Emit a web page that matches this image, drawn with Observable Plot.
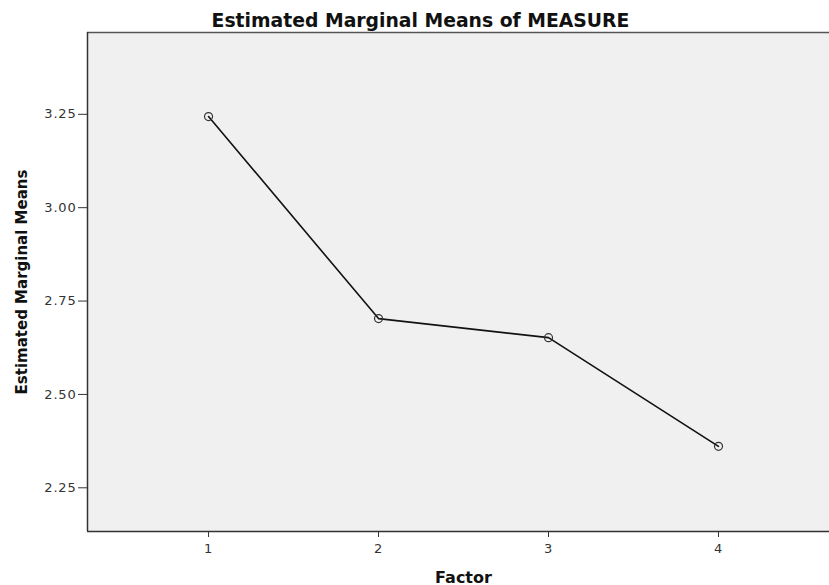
<!DOCTYPE html>
<html>
<head>
<meta charset="utf-8">
<script src="https://cdn.jsdelivr.net/npm/d3@7"></script>
<script src="https://cdn.jsdelivr.net/npm/@observablehq/plot@0.6"></script>
<style>
  html, body { margin: 0; padding: 0; background: #fff; }
  #chart svg { display: block; }
  #chart g[aria-label="y-axis tick label"] text,
  #chart g[aria-label="x-axis tick label"] text { letter-spacing: 0.8px; }
</style>
</head>
<body>
<div id="chart"></div>
<script>
const factors = [1, 2, 3, 4];
const means = [3.244, 2.703, 2.652, 2.361];
const yTicks = [2.25, 2.50, 2.75, 3.00, 3.25];
const xTicks = [1, 2, 3, 4];
const titleText = "Estimated Marginal Means of MEASURE";
const xLabel = "Factor";
const yLabel = "Estimated Marginal Means";

const data = factors.map((f, i) => ({factor: f, mean: means[i]}));
const xDomain = [0.288, 4.653];
const yDomain = [2.133, 3.469];

const chart = Plot.plot({
  width: 829,
  height: 585,
  marginLeft: 87,
  marginTop: 32,
  marginRight: 0,
  marginBottom: 54,
  style: {fontFamily: "DejaVu Sans", background: "#fff", overflow: "visible"},
  x: {domain: xDomain},
  y: {domain: yDomain},
  marks: [
    Plot.frame({fill: "#f0f0f0", stroke: null}),
    Plot.ruleY([yDomain[1]], {stroke: "#555", strokeWidth: 1.5}),
    Plot.ruleX([xDomain[0]], {stroke: "#333", strokeWidth: 1.5}),
    Plot.ruleY([yDomain[0]], {stroke: "#333", strokeWidth: 1.5}),
    Plot.axisY(yTicks, {
      tickSize: 9, tickPadding: 2, tickFormat: d3.format(".2f"),
      fontSize: 13, fill: "#333", stroke: "#333",
      label: null
    }),
    Plot.axisX(xTicks, {
      tickSize: 6, tickPadding: 6, tickFormat: d3.format("d"),
      fontSize: 13, fill: "#333", stroke: "#333",
      label: null
    }),
    Plot.line(data, {x: "factor", y: "mean", stroke: "#111", strokeWidth: 1.6}),
    Plot.dot(data, {x: "factor", y: "mean", r: 4, stroke: "#333", strokeWidth: 1.2, fill: "none"}),
    Plot.text([titleText], {
      frameAnchor: "top", dy: -19, dx: -38, fontSize: 18.8, fontWeight: "bold", fill: "#111"
    }),
    Plot.text([xLabel], {
      frameAnchor: "bottom", dy: 51, dx: 5, fontSize: 16, fontWeight: "bold", fill: "#111"
    }),
    Plot.text([yLabel], {
      frameAnchor: "left", dx: -65, rotate: -90, textAnchor: "middle", fontSize: 15, fontWeight: "bold", fill: "#111"
    })
  ]
});
document.getElementById("chart").append(chart);
</script>
</body>
</html>
